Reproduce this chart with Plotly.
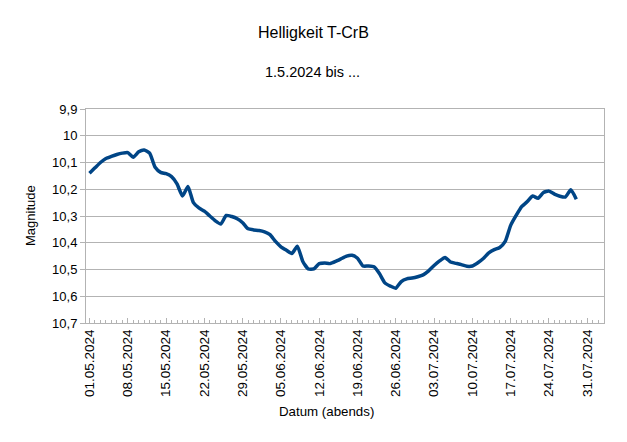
import pandas as pd
import plotly.graph_objects as go

start_date = "2024-05-01"
magnitudes = [
    10.14, 10.12, 10.10, 10.085, 10.077, 10.07, 10.065, 10.063, 10.08, 10.06,
    10.053, 10.065, 10.118, 10.137, 10.142, 10.153, 10.18, 10.225, 10.19, 10.25,
    10.27, 10.282, 10.30, 10.318, 10.33, 10.298, 10.302, 10.31, 10.325, 10.348,
    10.352, 10.354, 10.359, 10.37, 10.395, 10.415, 10.428, 10.44, 10.413, 10.47,
    10.498, 10.498, 10.478, 10.476, 10.478, 10.47, 10.46, 10.45, 10.447, 10.458,
    10.487, 10.487, 10.49, 10.515, 10.55, 10.562, 10.57, 10.545, 10.535, 10.532,
    10.527, 10.52, 10.505, 10.485, 10.468, 10.455, 10.472, 10.477, 10.482, 10.488,
    10.487, 10.475, 10.459, 10.438, 10.426, 10.418, 10.395, 10.335, 10.298, 10.265,
    10.247, 10.225, 10.234, 10.212, 10.207, 10.218, 10.226, 10.229, 10.202, 10.237,
]
dates = pd.date_range(start_date, periods=len(magnitudes), freq="D")

title_text = "Helligkeit T-CrB"
subtitle_text = "1.5.2024 bis ..."
y_title = "Magnitude"
x_title = "Datum (abends)"
y_range = [10.7, 9.9]
x_range = ["2024-04-30 08:40", "2024-08-03 01:30"]

FONT = "Liberation Sans, Arial, sans-serif"
GRID = "#b3b3b3"

fig = go.Figure()
fig.add_trace(go.Scatter(
    x=dates, y=magnitudes, mode="lines",
    line=dict(color="#004586", width=3.5, shape="spline", smoothing=0.5),
    showlegend=False,
))

fig.update_layout(
    width=627, height=442,
    margin=dict(l=86, r=23, t=109, b=119),
    paper_bgcolor="white", plot_bgcolor="white",
    separators=",.",
    font=dict(family=FONT, size=13, color="black"),
    xaxis=dict(
        type="date", range=x_range,
        tick0=start_date, dtick=7 * 86400000, tickformat="%d.%m.%Y",
        tickangle=-90, tickfont=dict(size=13.5),
        ticks="inside", ticklen=5, tickcolor=GRID,
        minor=dict(dtick=86400000, ticks="inside", ticklen=3, tickcolor=GRID, showgrid=False),
        showgrid=False, showline=True, linecolor=GRID, linewidth=1, mirror=True,
        zeroline=False,
    ),
    yaxis=dict(
        range=y_range, dtick=0.1, tick0=9.9,
        ticks="outside", ticklen=5, tickcolor=GRID,
        tickfont=dict(size=13),
        showgrid=True, gridcolor=GRID, gridwidth=1,
        showline=True, linecolor=GRID, linewidth=1, mirror=True,
        zeroline=False,
    ),
    annotations=[
        dict(text=title_text, xref="paper", yref="paper", x=(313 - 86) / 518, y=(323 - 33) / 214,
             showarrow=False, font=dict(size=16), xanchor="center", yanchor="middle"),
        dict(text=subtitle_text, xref="paper", yref="paper", x=(312 - 86) / 518, y=(323 - 72) / 214,
             showarrow=False, font=dict(size=14.5), xanchor="center", yanchor="middle"),
        dict(text=y_title, xref="paper", yref="paper", x=(30 - 86) / 518, y=(323 - 216) / 214,
             showarrow=False, textangle=-90, font=dict(size=13), xanchor="center", yanchor="middle"),
        dict(text=x_title, xref="paper", yref="paper", x=(326 - 86) / 518, y=(323 - 411) / 214,
             showarrow=False, font=dict(size=13.3), xanchor="center", yanchor="middle"),
    ],
)

fig.write_html("out.html")
